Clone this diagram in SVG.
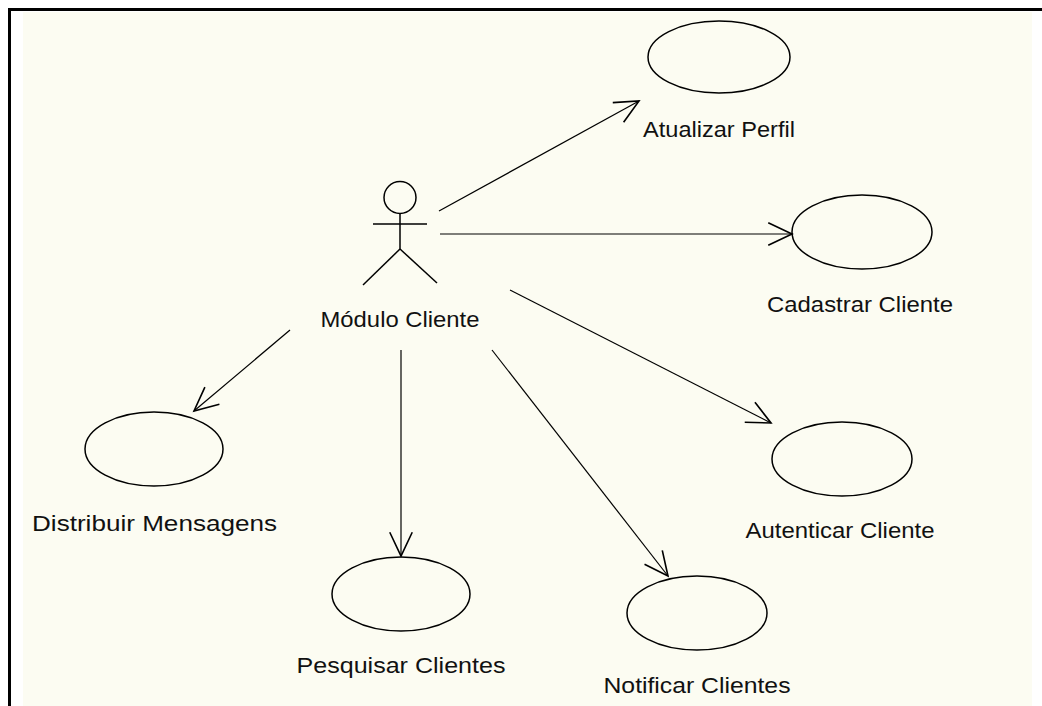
<svg xmlns="http://www.w3.org/2000/svg" width="1042" height="706" viewBox="0 0 1042 706">
<defs>
<style>
.uc{fill:none;stroke:#000;stroke-width:1.5}
.lbl{font-family:"Liberation Sans",Arial,sans-serif;font-size:22px;fill:#111;text-anchor:middle}
.con{stroke:#000;stroke-width:1.2;fill:none;marker-end:url(#arr)}
.act{stroke:#000;stroke-width:1.5;fill:none}
</style>
<marker id="arr" markerUnits="userSpaceOnUse" markerWidth="30" markerHeight="30" refX="0" refY="0" viewBox="-22 -12 24 24" orient="auto" overflow="visible">
<path d="M-19,-9 L0,0 L-19,9" fill="none" stroke="#000" stroke-width="1.3"/>
</marker>
</defs>
<rect x="0" y="0" width="1042" height="706" fill="#fff"/>
<rect x="23" y="12" width="1009" height="694" fill="#FCFCF2"/>
<path d="M9.5,706 V9.5 H1042" fill="none" stroke="#000" stroke-width="3"/>
<g id="connectors">
<line class="con" x1="439" y1="211" x2="639" y2="101"/>
<line class="con" x1="440" y1="234" x2="792" y2="234"/>
<line class="con" x1="510" y1="290" x2="771" y2="423"/>
<line class="con" x1="492" y1="350" x2="668" y2="576"/>
<line class="con" x1="401" y1="350" x2="401" y2="556"/>
<line class="con" x1="290" y1="330" x2="194" y2="411"/>
</g>
<g id="actor">
<circle class="act" cx="400" cy="197.5" r="16"/>
<line class="act" x1="400" y1="213" x2="400" y2="249"/>
<line class="act" x1="373" y1="224" x2="427" y2="224"/>
<line class="act" x1="400" y1="249" x2="363" y2="285"/>
<line class="act" x1="400" y1="249" x2="437" y2="283"/>
<text class="lbl" x="400" y="327" textLength="159" lengthAdjust="spacingAndGlyphs">Módulo Cliente</text>
</g>
<g id="uc-atualizar">
<ellipse class="uc" cx="719" cy="57" rx="71" ry="36"/>
<text class="lbl" x="719" y="137" textLength="152" lengthAdjust="spacingAndGlyphs">Atualizar Perfil</text>
</g>
<g id="uc-cadastrar">
<ellipse class="uc" cx="862" cy="232" rx="70" ry="37"/>
<text class="lbl" x="860" y="312" textLength="186" lengthAdjust="spacingAndGlyphs">Cadastrar Cliente</text>
</g>
<g id="uc-autenticar">
<ellipse class="uc" cx="842" cy="459" rx="70" ry="37"/>
<text class="lbl" x="840" y="538" textLength="189" lengthAdjust="spacingAndGlyphs">Autenticar Cliente</text>
</g>
<g id="uc-distribuir">
<ellipse class="uc" cx="154" cy="449" rx="69" ry="37"/>
<text class="lbl" x="154.5" y="531" textLength="245" lengthAdjust="spacingAndGlyphs">Distribuir Mensagens</text>
</g>
<g id="uc-pesquisar">
<ellipse class="uc" cx="401" cy="594" rx="69" ry="37"/>
<text class="lbl" x="401" y="673" textLength="209" lengthAdjust="spacingAndGlyphs">Pesquisar Clientes</text>
</g>
<g id="uc-notificar">
<ellipse class="uc" cx="697" cy="613" rx="70" ry="37"/>
<text class="lbl" x="697" y="693" textLength="187" lengthAdjust="spacingAndGlyphs">Notificar Clientes</text>
</g>
</svg>
